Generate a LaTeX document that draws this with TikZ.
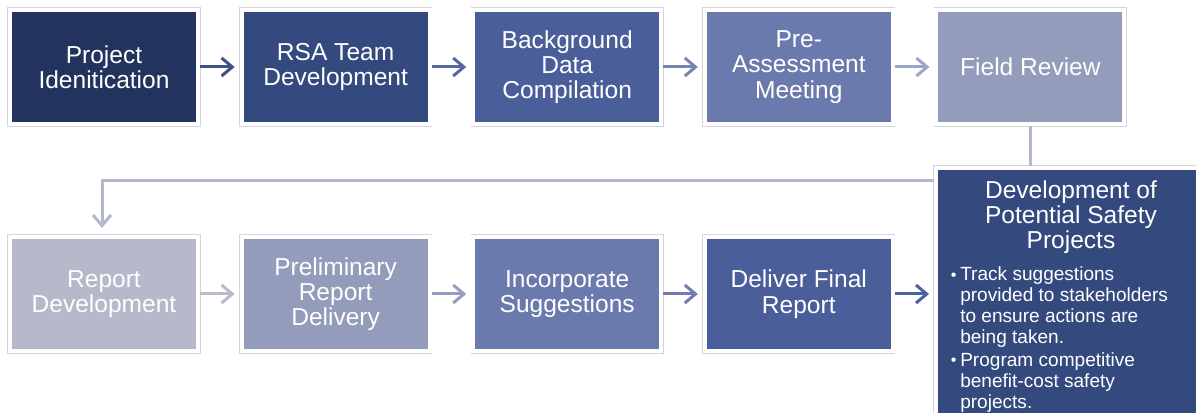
\documentclass[tikz,border=0pt]{standalone}
\usepackage{fontspec}
\setmainfont{Liberation Sans}
\usetikzlibrary{arrows.meta, calc, positioning}

% Box fills, dark to light
\definecolor{boxA}{HTML}{22335E}
\definecolor{boxB}{HTML}{344A7E}
\definecolor{boxC}{HTML}{4A5F9A}
\definecolor{boxD}{HTML}{6B7AAD}
\definecolor{boxE}{HTML}{939CBA}
\definecolor{boxF}{HTML}{B5B9CA}
% Arrow colours
\definecolor{arrA}{HTML}{3E5189}
\definecolor{arrB}{HTML}{5567A0}
\definecolor{arrC}{HTML}{7785B5}
\definecolor{arrD}{HTML}{9CA5C6}
\definecolor{arrE}{HTML}{B7BBCC}
\definecolor{arrF}{HTML}{959EBE}
\definecolor{arrG}{HTML}{6E7DB0}
\definecolor{arrH}{HTML}{4C619E}
\definecolor{linkgray}{HTML}{B3B7C9}
\definecolor{framegray}{HTML}{D3D4DC}

\begin{document}
\begin{tikzpicture}[x=0.75pt, y=-0.75pt, >={Straight Barb[length=8pt, width=13.5pt]}]

\tikzset{
  stagebox/.style={rectangle, fill=#1, draw=white, line width=3pt,
    preaction={draw=framegray, line width=4pt},
    minimum width=141pt, minimum height=85.5pt, inner sep=0pt, outer sep=1.5pt,
    text=white, align=center, font=\fontsize{18.4}{19}\selectfont},
  flowarrow/.style={->, line width=2.25pt, draw=#1, shorten >=3.75pt},
  link/.style={line width=2.25pt, draw=linkgray}
}

% Page
\clip (0,0) rectangle (1196,413);
\fill[white] (0,0) rectangle (1196,413);

\def\rowTop{67}
\def\rowBot{294}
\def\pitch{231.6}

% Top row
\foreach \i/\col/\txt in {0/boxA/{Project\\Idenitication},
                          1/boxB/{RSA Team\\Development},
                          2/boxC/{Background\\Data\\Compilation},
                          3/boxD/{Pre-\\Assessment\\Meeting},
                          4/boxE/{Field Review}} {
  \node[stagebox=\col] (t\i) at ({104+\pitch*\i}, \rowTop) {\txt};
}

% Bottom row
\foreach \i/\col/\txt in {0/boxF/{Report\\Development},
                          1/boxE/{Preliminary\\Report\\Delivery},
                          2/boxD/{Incorporate\\Suggestions},
                          3/boxC/{Deliver Final\\Report}} {
  \node[stagebox=\col] (b\i) at ({104+\pitch*\i}, \rowBot) {\txt};
}

% Safety projects box (runs off the page)
\node[stagebox=boxB, anchor=north west, minimum width=202.5pt, minimum height=204pt]
  (dev) at (934,166) {};
\node[text=white, align=center, font=\fontsize{18.4}{18.75}\selectfont]
  (devtitle) at (1071,217) {Development of\\Potential Safety\\Projects};
\node[text=white, anchor=north west, inner sep=0pt, font=\fontsize{14.3}{15.75}\selectfont]
  (devlist) at (947,266) {%
  \begin{tabular}{@{}p{9.75pt}@{}l@{}}
    \makebox[9.75pt][c]{\fontsize{12}{12}\selectfont\raisebox{0.5pt}{•}} & Track suggestions\\
     & provided to stakeholders\\
     & to ensure actions are\\
     & being taken.\\[1pt]
    \makebox[9.75pt][c]{\fontsize{12}{12}\selectfont\raisebox{0.5pt}{•}} & Program competitive\\
     & benefit-cost safety\\
     & projects.
  \end{tabular}};

% Arrows along the rows
\foreach \i/\j/\col in {0/1/arrA, 1/2/arrB, 2/3/arrC, 3/4/arrD}
  \draw[flowarrow=\col] (t\i) -- (t\j);
\foreach \i/\j/\col in {0/1/arrE, 1/2/arrF, 2/3/arrG}
  \draw[flowarrow=\col] (b\i) -- (b\j);
\draw[flowarrow=arrH] (b3.east) -- (b3.east -| dev.west);

% Links between rows
\coordinate (bend) at (102,181);
\draw[link] (t4.south) -- (t4.south |- dev.north);
\draw[link, ->, shorten >=5.25pt] (dev.west |- bend) -- (bend) -- (b0.north -| bend);

\end{tikzpicture}
\end{document}
